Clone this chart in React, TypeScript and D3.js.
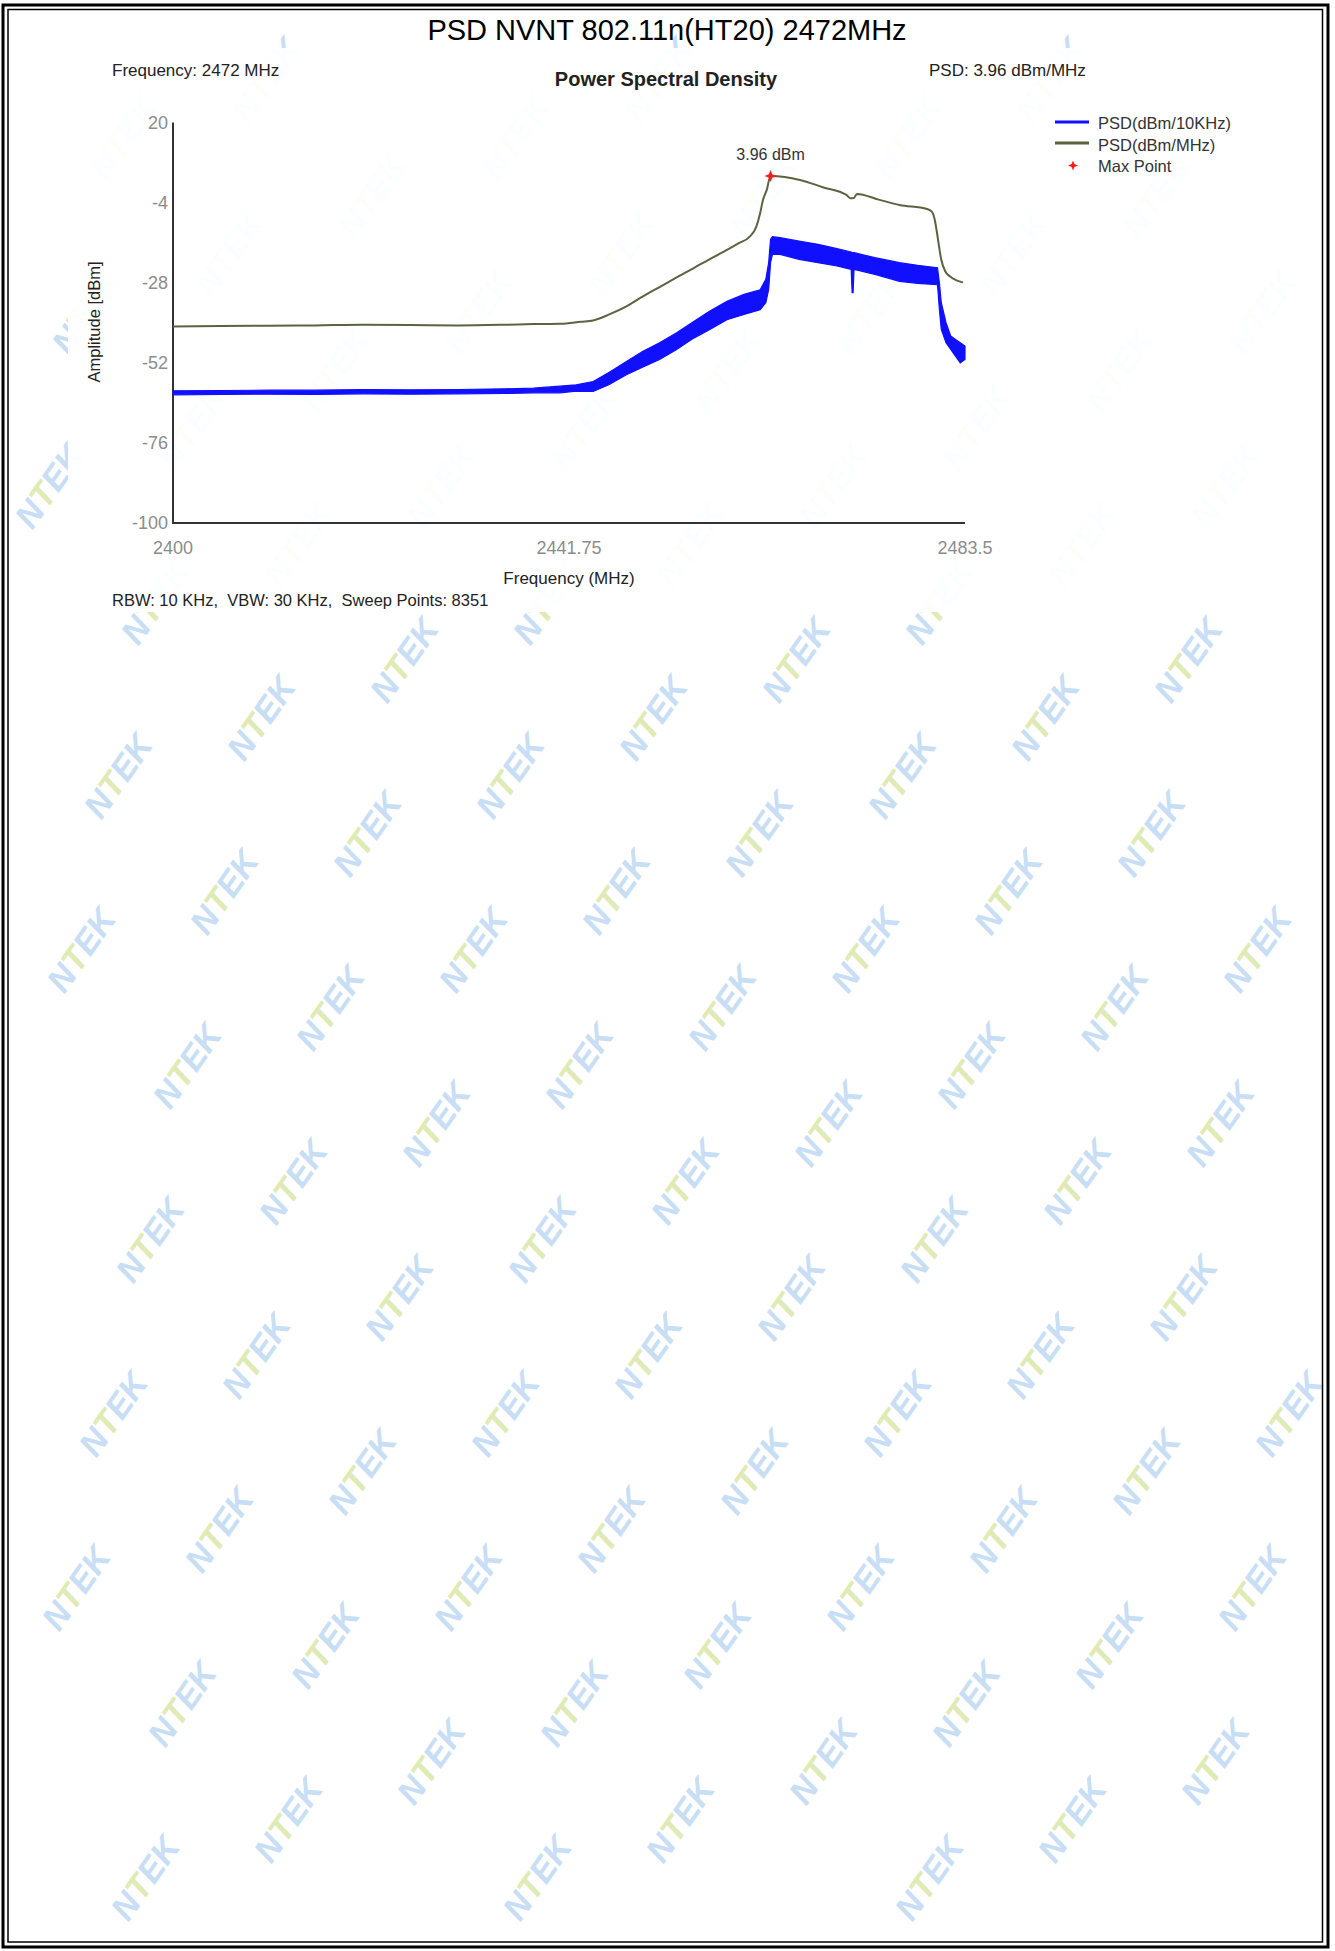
import React from 'react';
import * as d3 from 'd3';

// PSD (dBm/10KHz) trace, kept as a noise band: lower / upper edge per frequency
const blueFreq = [
  2400, 2405, 2410, 2415, 2420, 2425, 2430, 2435, 2438, 2440.8, 2442.5, 2444.3,
  2446, 2447.8, 2449.5, 2451.3, 2453.1, 2454.9, 2456.6, 2458.4, 2460.2, 2461.9,
  2462.5, 2462.8, 2463.0, 2463.2, 2464, 2466, 2468, 2470, 2471.5, 2471.6, 2471.7,
  2471.8, 2474, 2476.6, 2478.5, 2480.6, 2480.8, 2481.0, 2481.5, 2482, 2482.5,
  2483, 2483.5,
];
const blueLow = [
  -61.6, -61.5, -61.4, -61.5, -61.3, -61.4, -61.3, -61.2, -61.0, -61.0, -60.5, -60.6,
  -58.5, -55.6, -53.3, -51.0, -48.0, -44.6, -42.0, -39.1, -37.5, -36.1,
  -34.0, -30.0, -22.0, -19.5, -19.5, -21.0, -22.0, -23.0, -24.0, -31.0, -31.0,
  -24.0, -25.5, -27.6, -28.2, -28.6, -36.0, -42.0, -46.0, -48.0, -50.0,
  -52.0, -51.0,
];
const blueHigh = [
  -60.4, -60.3, -60.2, -60.2, -60.0, -60.1, -60.0, -59.8, -59.6, -59.0, -58.6, -57.6,
  -54.8, -51.6, -48.6, -46.0, -43.0, -39.6, -36.5, -33.6, -31.5, -30.1,
  -27.0, -22.0, -15.0, -14.2, -14.5, -15.5, -16.5, -17.8, -18.8, -19.0, -19.0,
  -19.0, -20.5, -22.0, -22.8, -23.5, -28.0, -34.0, -40.0, -44.0, -45.0,
  -46.0, -47.0,
];

// PSD (dBm/MHz) trace
const greenFreq = [
  2400, 2405, 2410, 2415, 2420, 2425, 2430, 2435, 2438, 2440.8, 2443, 2444.3,
  2446, 2447.8, 2449.5, 2451.3, 2453.1, 2454.9, 2456.6, 2458.4, 2459.6, 2460.8,
  2461.5, 2461.9, 2462.2, 2462.6, 2463.0, 2466.1, 2468.5, 2471.0, 2471.4, 2471.8,
  2472.1, 2474.4, 2476.6, 2479.5, 2480.0, 2480.3, 2480.5, 2481.0, 2481.4, 2481.9,
  2482.6, 2483.3,
];
const greenPsd = [
  -41.1, -41.0, -40.9, -40.8, -40.6, -40.7, -40.8, -40.6, -40.4, -40.3, -39.7, -39.3,
  -37.5, -35.1, -32.2, -29.3, -26.4, -23.6, -20.9, -18.2, -16.2, -14.2,
  -11.2, -7.2, -3.2, -0.2, 3.96, 2.8, 0.6, -1.7, -2.7, -2.6,
  -1.4, -3.1, -4.7, -5.9, -6.7, -9.0, -12.2, -21.1, -24.5, -26.1,
  -27.3, -27.9,
];

const maxFreq = 2463.0;
const maxPsd = 3.96;

const yTicks = [20, -4, -28, -52, -76, -100];
const xTicks = [2400, 2441.75, 2483.5];
const xTickLabels = ['2400', '2441.75', '2483.5'];
const legendLabels = ['PSD(dBm/10KHz)', 'PSD(dBm/MHz)', 'Max Point'];

const W = 1335;
const H = 1951;
const FONT = '"Liberation Sans", Arial, sans-serif';
const BLUE = '#1010ff';
const OLIVE = '#5a6440';

function Watermarks() {
  // NTEK watermark lattice, only the marks that fit inside the frame
  const marks: { x: number; y: number }[] = [];
  const ax = 143, ay = -58, bx = -37, by = 174;
  for (let i = -6; i < 16; i++) {
    for (let j = -8; j < 16; j++) {
      const x = 118 + i * ax + j * bx;
      const y = 776 + i * ay + j * by;
      if (x > 45 && x < W - 45 && y > 58 && y < H - 58) marks.push({ x, y });
    }
  }
  return (
    <g fontFamily={FONT} fontWeight="bold" fontStyle="italic" fontSize={34}>
      {marks.map((m, k) => (
        <text key={k} transform={`translate(${m.x},${m.y}) rotate(-55)`} textAnchor="middle" dy="0.35em">
          <tspan fill="#c8def4">N</tspan>
          <tspan fill="#dfeab4">T</tspan>
          <tspan fill="#c8def4">EK</tspan>
        </text>
      ))}
    </g>
  );
}

export default function App() {
  const x = d3.scaleLinear().domain([2400, 2483.5]).range([173, 965]);
  const y = d3.scaleLinear().domain([-100, 20]).range([523, 122.5]);

  const blueArea = d3
    .area<number>()
    .x((_, i) => x(blueFreq[i]))
    .y0((_, i) => y(blueLow[i]))
    .y1((_, i) => y(blueHigh[i]));
  const greenLine = d3
    .line<number>()
    .x((_, i) => x(greenFreq[i]))
    .y((d) => y(d))
    .curve(d3.curveMonotoneX);

  const star = (cx: number, cy: number, r: number) =>
    `M${cx},${cy - r}L${cx + r * 0.28},${cy - r * 0.28}L${cx + r},${cy}L${cx + r * 0.28},${cy + r * 0.28}` +
    `L${cx},${cy + r}L${cx - r * 0.28},${cy + r * 0.28}L${cx - r},${cy}L${cx - r * 0.28},${cy - r * 0.28}Z`;

  const mx = x(maxFreq);
  const my = y(maxPsd);

  return (
    <div style={{ position: 'absolute', left: 0, top: 0, width: W, height: H, background: '#fff' }}>
      <svg width={W} height={H} style={{ display: 'block' }}>
        <rect width={W} height={H} fill="#fff" />
        <Watermarks />
        {/* chart picture sits over the watermark, almost opaque */}
        <rect x={68} y={48} width={1230} height={564} fill="#fff" opacity={0.94} />

        {/* frame */}
        <rect x={3} y={5} width={1325} height={1942} fill="none" stroke="#000" strokeWidth={3} />
        <rect x={8} y={9.5} width={1314.5} height={1932.5} fill="none" stroke="#000" strokeWidth={1.5} />

        <text x={667} y={40} textAnchor="middle" fontFamily={FONT} fontSize={29} fill="#000">
          PSD NVNT 802.11n(HT20) 2472MHz
        </text>

        <g fontFamily={FONT} fill="#222">
          <text x={112} y={76} fontSize={17}>Frequency: 2472 MHz</text>
          <text x={929} y={76} fontSize={17}>PSD: 3.96 dBm/MHz</text>
          <text x={666} y={86} fontSize={20} fontWeight="bold" textAnchor="middle">Power Spectral Density</text>
          <text x={112} y={606} fontSize={16.5} style={{ whiteSpace: 'pre' }}>
            {'RBW: 10 KHz,  VBW: 30 KHz,  Sweep Points: 8351'}
          </text>
          <text x={569} y={584} fontSize={17} textAnchor="middle">Frequency (MHz)</text>
          <text transform="translate(100,322) rotate(-90)" fontSize={16.5} textAnchor="middle">
            Amplitude [dBm]
          </text>
        </g>

        {/* axes */}
        <line x1={173} y1={y(20)} x2={173} y2={y(-100) + 1} stroke="#333" strokeWidth={2} />
        <line x1={172} y1={y(-100)} x2={965} y2={y(-100)} stroke="#333" strokeWidth={2} />

        <g fontFamily={FONT} fontSize={18} fill="#8c8c8c">
          {yTicks.map((t) => (
            <text key={t} x={168} y={y(t) + 6} textAnchor="end">{t}</text>
          ))}
          {xTicks.map((t, i) => (
            <text key={t} x={x(t)} y={554} textAnchor="middle">{xTickLabels[i]}</text>
          ))}
        </g>

        {/* traces */}
        <path d={blueArea(blueFreq) ?? ''} fill={BLUE} stroke={BLUE} strokeWidth={1.2} />
        <path d={greenLine(greenPsd) ?? ''} fill="none" stroke={OLIVE} strokeWidth={2} />

        <path d={star(mx, my, 6)} fill="#ff1a1a" />
        <text x={mx} y={160} textAnchor="middle" fontFamily={FONT} fontSize={16} fill="#333">
          3.96 dBm
        </text>

        {/* legend */}
        <g fontFamily={FONT} fontSize={16.5} fill="#333">
          <line x1={1055} y1={122} x2={1089} y2={122} stroke={BLUE} strokeWidth={3} />
          <line x1={1055} y1={143} x2={1089} y2={143} stroke={OLIVE} strokeWidth={3} />
          <path d={star(1073, 165.5, 5)} fill="#ff1a1a" />
          {legendLabels.map((l, i) => (
            <text key={l} x={1098} y={129 + i * 21.5}>{l}</text>
          ))}
        </g>
      </svg>
    </div>
  );
}
